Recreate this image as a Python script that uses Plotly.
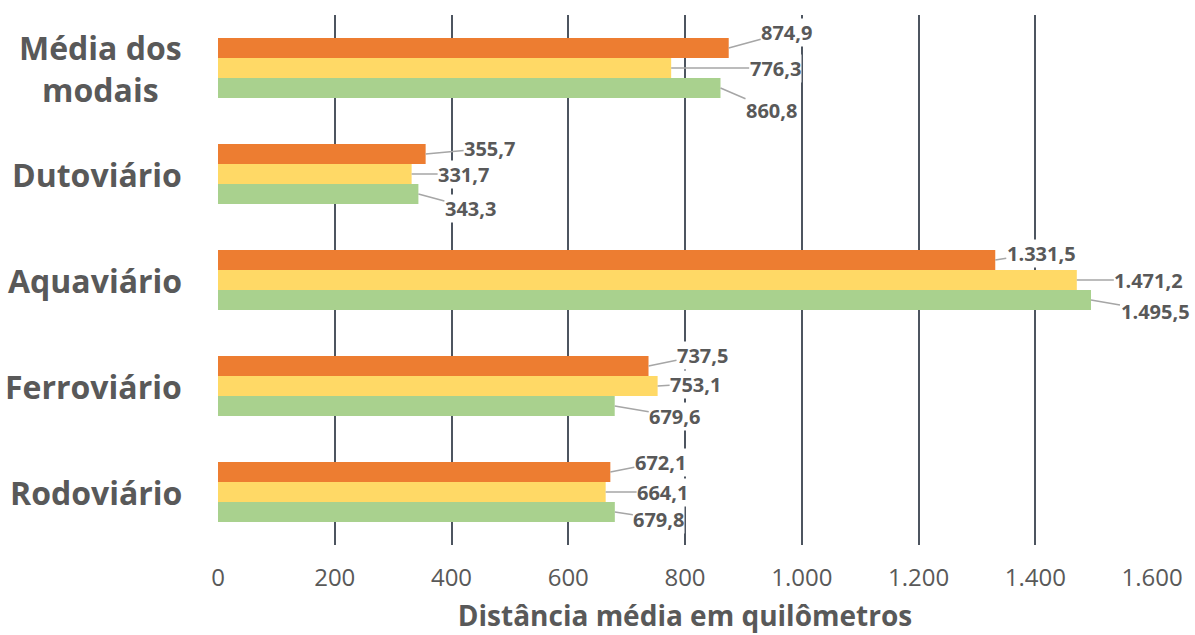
import plotly.graph_objects as go

# Categories listed bottom-to-top
categorias = ["Rodoviário", "Ferroviário", "Aquaviário", "Dutoviário", "Média dos<br>modais"]

# Average distance (km) per transport mode, three series
serie_verde = [679.8, 679.6, 1495.5, 343.3, 860.8]
serie_amarela = [664.1, 753.1, 1471.2, 331.7, 776.3]
serie_laranja = [672.1, 737.5, 1331.5, 355.7, 874.9]

tick_vals = [0, 200, 400, 600, 800, 1000, 1200, 1400, 1600]

COR_VERDE = "#A9D18E"
COR_AMARELA = "#FFD966"
COR_LARANJA = "#ED7D31"
COR_TEXTO = "#595959"
FONTE = "Open Sans"

# Pixel offsets of each value label from its bar end (ax, ay)
off_laranja = [(50, -10), (54, -11), (46, -7), (64, -6), (58, -16)]
off_amarela = [(57, 0), (38, -2), (72, 0), (52, 0), (104, 0)]
off_verde = [(44, 7), (60, 10), (64, 11), (52, 14), (51, 22)]

BARGAP = 0.434
bar_w = (1 - BARGAP) / 3


def fmt_pt(v):
    s = f"{v:,.1f}"
    return s.replace(",", "X").replace(".", ",").replace("X", ".")


fig = go.Figure()
for nome, vals, cor in [("Série 1", serie_verde, COR_VERDE),
                        ("Série 2", serie_amarela, COR_AMARELA),
                        ("Série 3", serie_laranja, COR_LARANJA)]:
    fig.add_trace(go.Bar(y=categorias, x=vals, orientation="h", name=nome,
                         marker=dict(color=cor, line=dict(width=0))))

annotations = []
for vals, offs, shift in [(serie_verde, off_verde, -bar_w),
                          (serie_amarela, off_amarela, 0.0),
                          (serie_laranja, off_laranja, bar_w)]:
    for i, (v, (ax, ay)) in enumerate(zip(vals, offs)):
        annotations.append(dict(
            x=v, y=i + shift, xref="x", yref="y",
            text=f"<b>{fmt_pt(v)}</b>",
            showarrow=True, arrowhead=0, arrowwidth=1.5, arrowcolor="#A6A6A6",
            ax=ax, ay=ay, bgcolor="white", borderpad=0,
            font=dict(family=FONTE, size=20, color=COR_TEXTO),
        ))

# Category names, centred on multiple lines
for cat in categorias:
    annotations.append(dict(
        x=0, xref="paper", y=cat, yref="y", xanchor="right", xshift=-34,
        text=f"<b>{cat}</b>", showarrow=False, align="center",
        font=dict(family=FONTE, size=32, color=COR_TEXTO),
    ))

fig.update_layout(
    width=1195, height=635,
    margin=dict(l=218, r=43, t=15, b=90),
    paper_bgcolor="white", plot_bgcolor="white",
    barmode="group", bargap=BARGAP, bargroupgap=0,
    showlegend=False,
    separators=",.",
    annotations=annotations,
    font=dict(family=FONTE, color=COR_TEXTO),
)
fig.update_xaxes(
    range=[0, 1600], tickvals=tick_vals, tickformat=",d",
    showgrid=True, gridcolor="#4D5560", gridwidth=1.5,
    zeroline=False, showline=False, ticks="",
    tickfont=dict(family=FONTE, size=24, color=COR_TEXTO),
    ticklabelstandoff=16, automargin=False,
    title=dict(text="<b>Distância média em quilômetros</b>",
               font=dict(family=FONTE, size=28, color=COR_TEXTO), standoff=14),
)
fig.update_yaxes(
    showgrid=False, zeroline=False, showline=False, ticks="",
    showticklabels=False, automargin=False,
)

fig.write_html("out.html")
